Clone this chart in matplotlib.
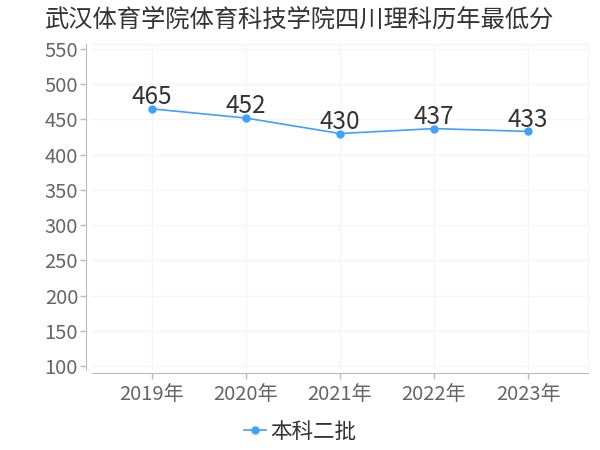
import matplotlib
matplotlib.use("Agg")
import matplotlib.pyplot as plt

plt.rcParams['font.family'] = ['Noto Sans CJK SC', 'DejaVu Sans']

title = "武汉体育学院体育科技学院四川理科历年最低分"
categories = ["2019年", "2020年", "2021年", "2022年", "2023年"]
series_name = "本科二批"
values = [465, 452, 430, 437, 433]
yticks = [100, 150, 200, 250, 300, 350, 400, 450, 500, 550]

line_color = "#3ea0ff"

fig = plt.figure(figsize=(6, 4.5), dpi=100)
ax = fig.add_axes([92/600, 1-370/450, (588-92)/600, (370-44)/450])

x = list(range(len(categories)))
ax.plot(x, values, color=line_color, lw=1.2, marker='o', ms=5, label=series_name, zorder=3)
for xi, v in zip(x, values):
    ax.annotate(str(v), (xi, v), xytext=(0, -1), textcoords='offset points',
                ha='center', va='bottom', fontsize=17.5, color='#333333')

ax.set_xlim(-0.638, 4.638)
ax.set_ylim(94.3, 557.1)
ax.set_yticks(yticks)
ax.set_xticks(x)
ax.set_xticklabels(categories)

ax.grid(True, color='#f5f5f5', lw=1)
ax.set_axisbelow(True)
for s in ['top', 'right']:
    ax.spines[s].set_color('#f3f3f3')
ax.spines['left'].set_position(('outward', 4))
ax.spines['bottom'].set_position(('outward', 2))
ax.spines['left'].set_color('#bbbbbb')
ax.spines['bottom'].set_color('#bbbbbb')
ax.tick_params(axis='both', colors='#bbbbbb', labelcolor='#666666', labelsize=14.5, length=4, width=1)
ax.tick_params(axis='x', pad=4)
ax.tick_params(axis='y', pad=2)

fig.text(45/600, 1-20/450, title, fontsize=17.5, color='#333333', va='center', ha='left')

leg = fig.legend(loc='center', bbox_to_anchor=(0.5, 1-432/450), frameon=False,
                 fontsize=15.5, handlelength=1.0, handletextpad=0.2, labelcolor='#333333')

fig.savefig("out.png", dpi=100)
